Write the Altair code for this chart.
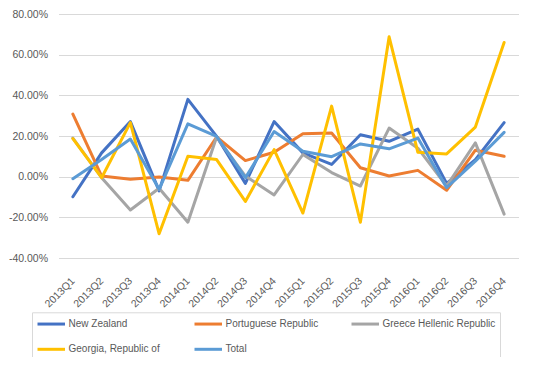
import altair as alt
import pandas as pd

quarters = ["2013Q1", "2013Q2", "2013Q3", "2013Q4",
            "2014Q1", "2014Q2", "2014Q3", "2014Q4",
            "2015Q1", "2015Q2", "2015Q3", "2015Q4",
            "2016Q1", "2016Q2", "2016Q3", "2016Q4"]

series_names = ["New Zealand", "Portuguese Republic", "Greece Hellenic Republic",
                "Georgia, Republic of", "Total"]
colors = ["#4472C4", "#ED7D31", "#A5A5A5", "#FFC000", "#5B9BD5"]

# values in percent
new_zealand = [-9.9, 11.7, 27.1, -7.0, 38.0, 19.8, -3.3, 27.1, 11.7, 6.0, 20.6, 17.4, 23.4, -3.3, 8.4, 26.6]
portuguese = [30.8, 0.3, -1.3, -0.2, -1.8, 19.5, 7.9, 12.0, 21.1, 21.5, 4.4, 0.3, 3.1, -6.7, 13.0, 10.0]
greece = [19.0, -0.5, -16.4, -5.7, -22.4, 19.5, 0.3, -9.0, 10.9, 2.0, -4.6, 23.9, 14.0, -4.6, 16.6, -18.4]
georgia = [18.7, -0.5, 26.6, -28.1, 10.0, 8.4, -12.2, 13.3, -17.9, 34.7, -22.4, 68.8, 12.0, 11.2, 24.4, 66.0]
total = [-1.0, 8.4, 18.5, -6.2, 26.0, 19.8, -0.5, 22.2, 12.5, 9.8, 16.1, 13.7, 19.0, -5.4, 7.6, 21.8]

y_ticks = [-40, -20, 0, 20, 40, 60, 80]

rows = []
for name, vals in zip(series_names, [new_zealand, portuguese, greece, georgia, total]):
    for q, v in zip(quarters, vals):
        rows.append({"quarter": q, "series": name, "value": v})
df = pd.DataFrame(rows)

font = "Liberation Sans"
lab = "#595959"
grid = "#D9D9D9"

chart = alt.Chart(df).mark_line(strokeWidth=3, strokeJoin="round", strokeCap="round").encode(
    x=alt.X("quarter:N", sort=quarters,
            scale=alt.Scale(type="point", padding=0.5),
            axis=alt.Axis(title=None, labelAngle=-45, labelAlign="right",
                          labelBaseline="middle", ticks=False, domain=False,
                          labelFont=font, labelFontSize=10.5, labelColor=lab,
                          labelPadding=21)),
    y=alt.Y("value:Q", scale=alt.Scale(domain=[-40, 80], nice=False, zero=False),
            axis=alt.Axis(title=None, values=y_ticks, ticks=False, domain=False,
                          labelExpr="(datum.value < 0 ? '-' : '') + format(abs(datum.value), '.2f') + '%'",
                          gridColor=grid, gridWidth=1, labelFont=font, labelFontSize=10.5,
                          labelColor=lab, labelPadding=11)),
    color=alt.Color("series:N", sort=series_names,
                    scale=alt.Scale(domain=series_names, range=colors),
                    legend=alt.Legend(title=None, orient="none", direction="horizontal",
                                      legendX=-26.5, legendY=298.3,
                                      columns=3, gridAlign="all",
                                      symbolType="M-1,0H3.583", symbolSize=144,
                                      symbolStrokeWidth=3, labelOffset=17.5,
                                      labelFont=font, labelFontSize=10, labelColor=lab,
                                      labelLimit=300, columnPadding=6, rowPadding=11.5,
                                      padding=4, strokeColor=grid)),
).properties(
    width=460, height=244,
    autosize=alt.AutoSizeParams(type="none"),
    padding={"left": 50.5, "top": 6, "right": 7.5, "bottom": 99},
).configure_view(stroke=None)

chart.save("out.html", embed_options={"renderer": "svg", "actions": False})
